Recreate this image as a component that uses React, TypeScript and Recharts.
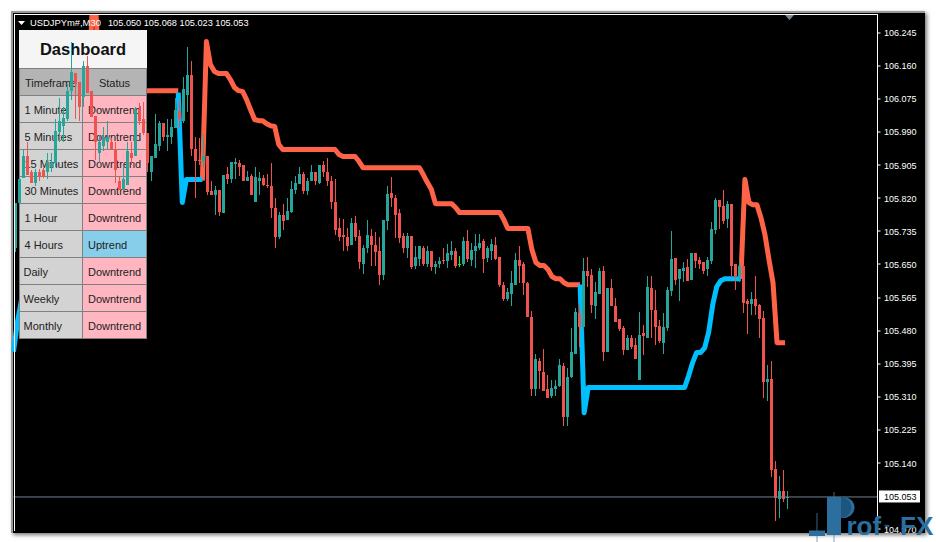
import React from "react";
import { ComposedChart, Bar, Line, XAxis, YAxis, ReferenceLine } from "recharts";

const W = 936;
const H = 542;
const SLOTS = 216;
const DOMAIN: [number, number] = [104.9682, 106.2928];
const LAST_PRICE = 105.053;
const axisTicks = [106.245, 106.16, 106.075, 105.99, 105.905, 105.82, 105.735, 105.65, 105.565, 105.48, 105.395, 105.31, 105.225, 105.14, LAST_PRICE, 104.97];
const headerSymbol = "USDJPYm#,M30";
const headerQuote = "105.050 105.068 105.023 105.053";

const timeframes = ["1 Minute", "5 Minutes", "15 Minutes", "30 Minutes", "1 Hour", "4 Hours", "Daily", "Weekly", "Monthly"];
const statuses = ["Downtrend", "Downtrend", "Downtrend", "Downtrend", "Downtrend", "Uptrend", "Downtrend", "Downtrend", "Downtrend"];

const highs = [105.808,105.873,105.945,105.965,105.893,105.896,105.896,105.898,105.937,105.937,106.022,106.078,106.055,106.114,106.222,106.142,106.117,106.171,106.186,106.096,106.032,105.983,106.004,106.017,105.975,105.963,105.875,105.906,105.965,105.963,106.055,106.065,106.068,105.988,105.927,106.037,106.017,106.014,106.022,106.022,106.076,106.073,106.130,106.209,106.171,105.978,105.975,105.986,105.927,105.863,105.850,105.842,105.880,105.901,105.914,105.922,105.919,105.904,105.891,105.883,105.901,105.886,105.880,105.883,105.911,105.821,105.785,105.806,105.821,105.865,105.878,105.901,105.888,105.873,105.906,105.888,105.906,105.916,105.922,105.878,105.870,105.770,105.767,105.744,105.770,105.775,105.739,105.701,105.765,105.742,105.734,105.721,105.765,105.850,105.875,105.829,105.793,105.731,105.731,105.724,105.696,105.698,105.696,105.696,105.685,105.660,105.670,105.691,105.703,105.709,105.693,105.672,105.721,105.739,105.706,105.729,105.729,105.714,105.696,105.714,105.721,105.670,105.606,105.590,105.632,105.680,105.696,105.657,105.606,105.531,105.421,105.411,105.434,105.367,105.352,105.352,105.408,105.398,105.385,105.488,105.537,105.547,105.667,105.670,105.637,105.606,105.642,105.647,105.590,105.613,105.565,105.511,105.493,105.470,105.470,105.462,105.529,105.495,105.619,105.619,105.585,105.508,105.526,105.593,105.737,105.667,105.639,105.657,105.665,105.680,105.680,105.670,105.657,105.670,105.760,105.821,105.816,105.842,105.814,105.806,105.650,105.655,105.650,105.562,105.578,105.619,105.549,105.531,105.393,105.401,105.146,105.108,105.123,105.068];
const opens = [105.693,105.808,105.873,105.927,105.886,105.860,105.888,105.893,105.888,105.901,105.911,105.991,106.006,106.024,106.094,106.142,106.117,106.081,106.160,106.096,106.032,105.937,105.955,105.963,105.963,105.947,105.865,105.842,105.855,105.937,105.927,106.050,106.022,105.988,105.886,105.924,105.955,106.014,105.978,105.978,106.001,106.045,106.019,106.086,106.137,105.947,105.919,105.916,105.927,105.839,105.827,105.842,105.783,105.883,105.870,105.909,105.911,105.904,105.865,105.878,105.811,105.863,105.873,105.855,105.852,105.796,105.721,105.778,105.765,105.785,105.842,105.857,105.883,105.839,105.863,105.886,105.860,105.906,105.886,105.865,105.809,105.744,105.726,105.721,105.701,105.757,105.724,105.652,105.693,105.724,105.701,105.685,105.624,105.762,105.834,105.821,105.783,105.724,105.691,105.724,105.647,105.665,105.693,105.650,105.685,105.644,105.652,105.662,105.660,105.675,105.685,105.650,105.650,105.709,105.662,105.685,105.693,105.709,105.667,105.685,105.701,105.670,105.596,105.562,105.575,105.598,105.662,105.650,105.603,105.516,105.329,105.403,105.375,105.331,105.311,105.331,105.339,105.390,105.257,105.362,105.421,105.526,105.490,105.634,105.624,105.544,105.575,105.634,105.426,105.590,105.544,105.511,105.488,105.431,105.460,105.442,105.354,105.475,105.462,105.590,105.534,105.493,105.449,105.488,105.583,105.667,105.613,105.632,105.644,105.611,105.680,105.662,105.655,105.637,105.660,105.739,105.816,105.801,105.767,105.806,105.650,105.621,105.647,105.555,105.549,105.560,105.547,105.513,105.349,105.357,105.126,105.049,105.069,105.050];
const closes = [105.808,105.870,105.927,105.880,105.860,105.886,105.875,105.875,105.914,105.911,105.993,106.019,106.027,106.096,106.145,106.112,106.055,106.160,106.091,106.029,105.963,105.963,105.978,105.978,105.945,105.893,105.842,105.868,105.940,105.924,106.047,106.019,105.988,105.911,105.927,105.958,106.014,105.978,105.983,106.004,106.047,106.022,106.099,106.137,105.945,105.916,105.916,105.927,105.837,105.829,105.842,105.785,105.880,105.868,105.914,105.914,105.901,105.865,105.875,105.829,105.875,105.873,105.855,105.850,105.796,105.721,105.778,105.762,105.788,105.844,105.860,105.883,105.839,105.865,105.886,105.863,105.906,105.886,105.863,105.809,105.739,105.721,105.721,105.698,105.757,105.721,105.655,105.693,105.726,105.701,105.683,105.624,105.765,105.832,105.821,105.778,105.719,105.693,105.724,105.644,105.670,105.696,105.650,105.685,105.644,105.652,105.660,105.660,105.678,105.685,105.647,105.650,105.709,105.665,105.688,105.696,105.706,105.665,105.691,105.703,105.665,105.596,105.562,105.578,105.603,105.662,105.647,105.601,105.516,105.329,105.406,105.377,105.326,105.308,105.334,105.339,105.393,105.257,105.362,105.424,105.529,105.490,105.634,105.621,105.547,105.578,105.634,105.426,105.590,105.542,105.501,105.485,105.431,105.460,105.439,105.408,105.470,105.467,105.593,105.534,105.490,105.454,105.490,105.585,105.665,105.611,105.637,105.642,105.608,105.680,105.660,105.652,105.634,105.662,105.742,105.816,105.798,105.762,105.806,105.647,105.621,105.647,105.552,105.549,105.560,105.544,105.511,105.349,105.357,105.123,105.051,105.069,105.049,105.053];
const lows = [105.683,105.804,105.873,105.880,105.860,105.850,105.863,105.873,105.868,105.888,105.901,105.963,105.963,106.017,106.073,106.022,106.017,106.055,106.091,106.029,105.919,105.911,105.940,105.945,105.945,105.860,105.842,105.842,105.855,105.906,105.927,106.009,105.983,105.888,105.863,105.924,105.940,105.968,105.940,105.958,106.001,106.001,106.014,106.042,105.929,105.821,105.906,105.901,105.829,105.829,105.778,105.773,105.783,105.857,105.860,105.868,105.878,105.863,105.865,105.829,105.811,105.829,105.850,105.847,105.770,105.693,105.714,105.739,105.765,105.783,105.832,105.857,105.832,105.827,105.863,105.855,105.857,105.875,105.850,105.793,105.726,105.709,105.685,105.685,105.701,105.709,105.637,105.626,105.680,105.647,105.647,105.596,105.611,105.739,105.798,105.719,105.706,105.680,105.667,105.637,105.637,105.647,105.647,105.644,105.632,105.626,105.642,105.652,105.642,105.662,105.642,105.644,105.647,105.657,105.647,105.642,105.688,105.629,105.655,105.662,105.662,105.593,105.555,105.555,105.542,105.598,105.601,105.572,105.516,105.311,105.311,105.331,105.326,105.308,105.308,105.311,105.336,105.236,105.236,105.359,105.421,105.439,105.478,105.593,105.526,105.511,105.575,105.401,105.426,105.542,105.501,105.480,105.418,105.431,105.434,105.408,105.354,105.418,105.462,105.462,105.442,105.449,105.421,105.478,105.570,105.598,105.557,105.606,105.608,105.611,105.642,105.637,105.626,105.621,105.652,105.729,105.742,105.755,105.744,105.621,105.585,105.606,105.526,105.472,105.519,105.519,105.460,105.308,105.300,105.103,104.992,105.000,105.041,105.023];

const redAStart = 19;
const redA = [106.176,106.4,106.201,106.176,106.163,106.15,106.137,106.124,106.112,106.104,106.099,106.096,106.096,106.096,106.096,106.096,106.096,106.096,106.096,106.096,106.096,106.096,106.096];
const redBStart = 47;
const redB = [105.865,106.222,106.163,106.145,106.14,106.14,106.14,106.124,106.104,106.096,106.094,106.073,106.047,106.022,106.019,106.019,106.011,106.006,106.004,105.958,105.945,105.945,105.945,105.945,105.945,105.945,105.945,105.945,105.945,105.945,105.945,105.945,105.945,105.945,105.932,105.927,105.927,105.927,105.927,105.914,105.898,105.898,105.898,105.898,105.898,105.898,105.898,105.898,105.898,105.898,105.898,105.898,105.898,105.898,105.898,105.88,105.86,105.842,105.806,105.806,105.806,105.806,105.806,105.796,105.783,105.783,105.783,105.783,105.783,105.783,105.783,105.783,105.783,105.783,105.783,105.765,105.742,105.742,105.742,105.742,105.742,105.742,105.688,105.655,105.647,105.647,105.637,105.619,105.613,105.613,105.603,105.598,105.598,105.598,105.598];
const redCStart = 181;
const redC = [105.613,105.868,105.809,105.803,105.803,105.77,105.726,105.662,105.603,105.449,105.449,105.449];
const blueAStart = 0;
const blueA = [105.426,105.503,105.56];
const blueBStart = 41;
const blueB = [106.091,105.809,105.868,105.868,105.868,105.868,105.868];
const blueCStart = 141;
const blueC = [105.598,105.269,105.334,105.334,105.334,105.334,105.334,105.334,105.334,105.334,105.334,105.334,105.334,105.334,105.334,105.334,105.334,105.334,105.334,105.334,105.334,105.334,105.334,105.334,105.334,105.334,105.334,105.364,105.398,105.424,105.424,105.436,105.477,105.547,105.593,105.608,105.613,105.613,105.613,105.613,105.613];

const TEAL = "#26a69a";
const RED = "#ef5350";
const LIME = "#00ff00";
const FONT = "'Liberation Sans', Arial, sans-serif";

function place(segments: [number, number[]][]) {
  const out: (number | null)[] = new Array(SLOTS).fill(null);
  segments.forEach(([start, values]) => values.forEach((v, k) => { out[start + k] = v; }));
  return out;
}
const redLine = place([[redAStart, redA], [redBStart, redB], [redCStart, redC]]);
const blueLine = place([[blueAStart, blueA], [blueBStart, blueB], [blueCStart, blueC]]);

const rows = Array.from({ length: SLOTS }, (_, i) => ({
  idx: i,
  open: opens[i] ?? null,
  high: highs[i] ?? null,
  low: lows[i] ?? null,
  close: closes[i] ?? null,
  range: highs[i] != null ? [lows[i], highs[i]] : null,
  red: redLine[i],
  blue: blueLine[i],
}));

const Candle = (p: any) => {
  const d = p.payload;
  if (!d || d.high == null || !p.height) return null;
  const yOf = (v: number) => p.y + ((d.high - v) / (d.high - d.low)) * p.height;
  const cx = p.x + p.width / 2;
  const top = yOf(Math.max(d.open, d.close));
  const bot = yOf(Math.min(d.open, d.close));
  const color = d.close > d.open ? TEAL : d.close < d.open ? RED : LIME;
  return (
    <g shapeRendering="crispEdges">
      <rect x={cx - 0.5} y={p.y} width={1} height={p.height} fill={color} />
      <rect x={cx - 1.5} y={top} width={3} height={Math.max(1, bot - top)} fill={color} />
    </g>
  );
};

const AxisTick = (p: any) => {
  const v = p.payload.value;
  const isLast = v === LAST_PRICE;
  return (
    <g>
      {isLast && <rect x={879} y={p.y - 6.5} width={41} height={12} fill="#ffffff" />}
      {!isLast && <rect x={878} y={Math.round(p.y) - 0.5} width={2.5} height={1} fill="#ffffff" />}
      <text x={884} y={p.y + 3.5} fontSize={9} fontFamily={FONT} fill={isLast ? "#000000" : "#ffffff"}>{v.toFixed(3)}</text>
    </g>
  );
};

const layer: React.CSSProperties = { position: "absolute", left: 0, top: 0 };
const margins = { top: 14, bottom: 12, left: 13.5 };

const Dashboard = () => {
  const cell = (left: number, top: number, width: number, height: number, bg: string): React.CSSProperties => ({
    position: "absolute", left, top, width, height, background: bg, boxSizing: "border-box",
    fontFamily: FONT, fontSize: 11, color: "#222222", lineHeight: `${height + 2}px`, whiteSpace: "nowrap",
  });
  return (
    <div style={layer}>
      <div style={{ ...cell(19, 30, 128, 38, "#f5f5f5"), fontSize: 16.5, fontWeight: 700, color: "#111111", textAlign: "center", lineHeight: "38px" }}>Dashboard</div>
      <div style={cell(19, 68, 128, 271, "#808080")} />
      <div style={{ ...cell(20, 69, 62, 26, "#b4b4b4"), paddingLeft: 5 }}>Timeframe</div>
      <div style={{ ...cell(83, 69, 63, 26, "#b4b4b4"), textAlign: "center" }}>Status</div>
      {timeframes.map((t, i) => (
        <React.Fragment key={t}>
          <div style={{ ...cell(20, 96 + 27 * i, 62, 26, "#d3d3d3"), paddingLeft: i > 5 ? 3.5 : 4.5 }}>{t}</div>
          <div style={{ ...cell(83, 96 + 27 * i, 63, 26, statuses[i] === "Uptrend" ? "#87ceeb" : "#ffb6c1"), paddingLeft: 5 }}>{statuses[i]}</div>
        </React.Fragment>
      ))}
    </div>
  );
};

export default function App() {
  return (
    <div style={{ position: "absolute", left: 0, top: 0, width: W, height: H, background: "#ffffff", overflow: "hidden" }}>
      <div style={{ position: "absolute", left: 11, top: 11, width: 912, height: 520, boxSizing: "content-box", borderTop: "2px solid #989898", borderLeft: "2px solid #989898", background: "#000000", boxShadow: "2px 2px 4px #777777" }} />
      <div style={layer}>
        <ComposedChart width={W} height={H} data={rows} margin={{ ...margins, right: 58.5 }}>
          <XAxis dataKey="idx" type="category" hide />
          <YAxis hide domain={DOMAIN} allowDataOverflow />
          <Line dataKey="red" stroke="#ff6347" strokeWidth={5} strokeLinejoin="round" dot={false} isAnimationActive={false} activeDot={false} />
          <Line dataKey="blue" stroke="#00bfff" strokeWidth={5} strokeLinejoin="round" dot={false} isAnimationActive={false} activeDot={false} />
        </ComposedChart>
      </div>
      <Dashboard />
      <div style={layer}>
        <ComposedChart width={W} height={H} data={rows} margin={{ ...margins, right: 0 }} barCategoryGap={0} barGap={0}>
          <XAxis dataKey="idx" type="category" hide />
          <YAxis
            orientation="right"
            width={58.5}
            domain={DOMAIN}
            allowDataOverflow
            ticks={axisTicks}
            interval={0}
            tickSize={3}
            tickLine={false}
            axisLine={{ stroke: "#ffffff" }}
            tick={<AxisTick />}
          />
          <ReferenceLine y={LAST_PRICE} stroke="#70808f" strokeWidth={1} />
          <Bar dataKey="range" barSize={4} shape={<Candle />} isAnimationActive={false} />
        </ComposedChart>
      </div>
      <svg width={W} height={H} style={{ ...layer, pointerEvents: "none" }}>
        <rect x={14} y={14} width={864} height={1} fill="#ffffff" />
        <rect x={14} y={14} width={1} height={517} fill="#ffffff" />
        <polygon points="785,15 794,15 789.5,20" fill="#778899" />
        <polygon points="18,21 25,21 21.5,25" fill="#ffffff" />
        <text x={30} y={26} fontSize={9.4} fontFamily={FONT} fill="#ffffff">{headerSymbol}</text>
        <text x={108} y={26} fontSize={9.2} fontFamily={FONT} fill="#ffffff" xmlSpace="preserve">{headerQuote}</text>
        <g>
          <rect x={816.5} y={513} width={1} height={29} fill="#4f83ab" opacity={0.75} />
          <rect x={833.5} y={492} width={1} height={50} fill="#4f83ab" opacity={0.75} />
          <rect x={809} y={530.5} width={16} height={5.5} fill="#2c6e9e" />
          <path d="M 841 497 H 843 A 11.5 10.5 0 0 1 843 518 H 841 Z" fill="#2c6e9e" />
          <path d="M 841 507 V 497 H 843 A 12 11 0 0 1 843 518 H 833 Z" fill="#1d557f" />
          <rect x={827} y={497} width={14} height={38} fill="#2c6e9e" />
          <path d="M 841 507 L 841 497 L 830 497 Z" fill="#2c6e9e" />
          <text y={535} fontSize={26} fontWeight={700} fontFamily={FONT} fill="#2a6f9f">
            <tspan x={846.5}>rof</tspan>
            <tspan x={884} y={531} fontSize={18} fill="#235b84">-</tspan>
            <tspan x={900} y={535}>FX</tspan>
          </text>
        </g>
      </svg>
    </div>
  );
}
